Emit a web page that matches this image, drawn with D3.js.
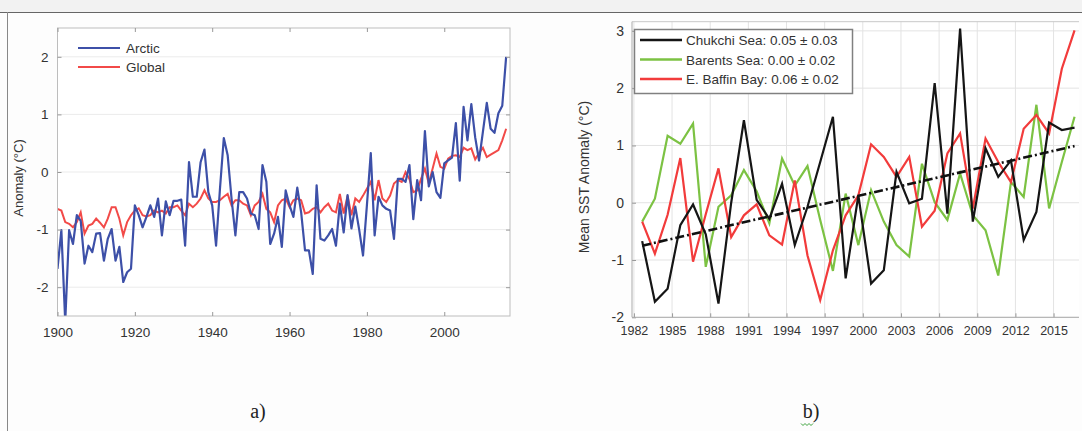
<!DOCTYPE html>
<html>
<head>
<meta charset="utf-8">
<script src="https://cdn.jsdelivr.net/npm/d3@7"></script>
<style>
  body { margin: 0; background: #fdfdfd; }
  svg text { font-family: "Liberation Sans", Arial, sans-serif; }
</style>
</head>
<body>
<div id="chart"></div>
<script>
// ---- panel a: Arctic vs global air temperature anomaly ----
var yearsA = d3.range(1900, 2017);
var arctic = [-1.68, -1.01, -2.6, -1.01, -1.25, -0.75, -0.85, -1.59, -1.28, -1.39,
    -1.07, -1.06, -1.54, -1.16, -0.99, -1.54, -1.30, -1.91, -1.74, -1.68,
    -0.58, -0.75, -0.96, -0.78, -0.58, -0.78, -0.46, -1.10, -0.51, -0.75,
    -0.50, -0.50, -0.48, -1.28, 0.17, -0.43, -0.43, 0.17, 0.39, -0.35,
    -0.58, -1.28, -0.30, 0.59, 0.29, -0.46, -1.10, -0.35, -0.35, -0.46,
    -0.72, -0.75, -0.99, 0.12, -0.17, -1.25, -1.07, -0.78, -1.30, -0.32,
    -0.58, -0.78, -0.27, -0.70, -1.36, -1.36, -1.77, -0.23, -1.16, -1.19,
    -1.10, -0.99, -1.28, -0.55, -1.05, -0.40, -0.98, -0.60, -1.00, -1.45,
    -0.58, 0.33, -1.10, -0.43, -0.58, -0.64, -0.67, -1.16, -0.12, -0.12,
    -0.17, 0.12, -0.82, -0.14, -0.49, 0.71, -0.25, 0.00, -0.35, -0.45,
    0.15, 0.20, 0.25, 0.85, -0.15, 1.13, 0.55, 1.18, 0.60, 0.20,
    0.70, 1.20, 0.75, 0.68, 1.02, 1.15, 2.00];
var global = [-0.64, -0.67, -0.87, -0.90, -0.96, -0.87, -0.70, -1.07, -0.93, -0.90,
    -0.81, -0.88, -0.96, -0.81, -0.61, -0.61, -0.81, -1.10, -0.87, -0.75,
    -0.67, -0.63, -0.75, -0.77, -0.75, -0.67, -0.70, -0.67, -0.72, -0.61,
    -0.61, -0.58, -0.67, -0.75, -0.55, -0.61, -0.55, -0.46, -0.32, -0.46,
    -0.52, -0.52, -0.49, -0.43, -0.38, -0.58, -0.49, -0.49, -0.55, -0.58,
    -0.75, -0.58, -0.52, -0.38, -0.64, -0.70, -0.87, -0.58, -0.49, -0.46,
    -0.61, -0.49, -0.46, -0.49, -0.72, -0.70, -0.64, -0.61, -0.70, -0.61,
    -0.55, -0.67, -0.70, -0.38, -0.72, -0.41, -0.75, -0.46, -0.52, -0.41,
    -0.29, -0.17, -0.49, -0.14, -0.46, -0.52, -0.41, -0.20, -0.14, -0.17,
    0.00, -0.12, -0.35, -0.32, -0.12, 0.06, -0.20, 0.06, 0.32, 0.09,
    0.06, 0.23, 0.28, 0.29, 0.26, 0.42, 0.38, 0.41, 0.22, 0.33,
    0.42, 0.26, 0.30, 0.34, 0.38, 0.55, 0.75];
var ticksXA = [1900, 1920, 1940, 1960, 1980, 2000];
var ticksYA = [-2, -1, 0, 1, 2];

// ---- panel b: mean SST anomaly in three Arctic seas ----
var yearsB = d3.range(1982, 2017);
var chukchi = [-0.67, -1.73, -1.50, -0.39, -0.03, -0.55, -1.76, 0.00, 1.44, 0.05,
    -0.28, 0.33, -0.74, -0.07, 0.71, 1.50, -1.32, 0.13, -1.41, -1.18,
    0.54, -0.01, 0.07, 2.09, -0.19, 3.04, -0.33, 0.95, 0.45, 0.74,
    -0.65, -0.16, 1.40, 1.27, 1.31];
var barents = [-0.33, 0.07, 1.17, 1.03, 1.38, -1.12, -0.07, 0.13, 0.57, 0.20,
    -0.36, 0.77, 0.30, 0.64, -0.30, -1.19, 0.16, -0.74, 0.22, -0.33,
    -0.74, -0.94, 0.68, 0.01, -0.30, 0.51, -0.22, -0.48, -1.27, 0.36,
    0.10, 1.71, -0.10, 0.71, 1.50];
var baffin = [-0.33, -0.89, -0.21, 0.78, -1.03, -0.20, 0.60, -0.60, -0.22, -0.03,
    -0.57, -0.73, 0.39, -0.92, -1.70, -0.83, -0.22, 0.13, 1.02, 0.80,
    0.45, 0.80, -0.42, -0.14, 0.86, 1.21, -0.10, 1.12, 0.71, 0.36,
    1.29, 1.53, 1.21, 2.34, 3.01];
var trendYears = [1982, 2016];
var trendValues = [-0.75, 0.99];
var legendB = ["Chukchi Sea: 0.05 \u00b1 0.03", "Barents Sea: 0.00 \u00b1 0.02", "E. Baffin Bay: 0.06 \u00b1 0.02"];
var ticksXB = d3.range(1982, 2016, 3);
var ticksYB = [-2, -1, 0, 1, 2, 3];

var width = 1082, height = 431;
var svg = d3.select("#chart").append("svg")
    .attr("width", width)
    .attr("height", height);

// page chrome of the source screenshot
svg.append("rect").attr("x", 0).attr("y", 0).attr("width", width).attr("height", 12).attr("fill", "#f2f2f2");
svg.append("line").attr("x1", 0).attr("x2", width).attr("y1", 12.5).attr("y2", 12.5).attr("stroke", "#666");
svg.append("line").attr("x1", 7.5).attr("x2", 7.5).attr("y1", 12).attr("y2", height).attr("stroke", "#888");

var textColor = "#333";
var plainNum = function(d) { return String(d); }; // hyphen minus like the original

// ================= panel a =================
var xA = d3.scaleLinear().domain([1900, 2017]).range([57.5, 510]);
var yA = d3.scaleLinear().domain([-2.5, 2.5]).range([316, 28]);

var ga = svg.append("g");
ga.append("rect").attr("x", 57.5).attr("y", 28).attr("width", 452.5).attr("height", 288).attr("fill", "#fff");

// light horizontal grid
ga.selectAll(".gridA").data(ticksYA).enter().append("line")
    .attr("x1", xA(1900)).attr("x2", xA(2017))
    .attr("y1", function(d) { return yA(d); }).attr("y2", function(d) { return yA(d); })
    .attr("stroke", "#ebebeb");

ga.append("clipPath").attr("id", "clipA").append("rect")
    .attr("x", 57.5).attr("y", 28).attr("width", 452.5).attr("height", 288);

var lineA = d3.line()
    .x(function(d) { return xA(d[0]); })
    .y(function(d) { return yA(d[1]); });

ga.append("path")
    .datum(d3.zip(yearsA, global))
    .attr("d", lineA)
    .attr("clip-path", "url(#clipA)")
    .attr("fill", "none").attr("stroke", "#f24a48").attr("stroke-width", 2);
ga.append("path")
    .datum(d3.zip(yearsA, arctic))
    .attr("d", lineA)
    .attr("clip-path", "url(#clipA)")
    .attr("fill", "none").attr("stroke", "#3d50a8").attr("stroke-width", 2.2)
    .attr("stroke-linejoin", "round");

// frame with ticks on all sides
ga.append("rect").attr("x", 57.5).attr("y", 28).attr("width", 452.5).attr("height", 288)
    .attr("fill", "none").attr("stroke", "#bdbdbd");
ga.append("g").attr("transform", "translate(0,316)")
    .call(d3.axisBottom(xA).tickValues(ticksXA).tickFormat(plainNum).tickSizeInner(-4).tickSizeOuter(0).tickPadding(11))
    .call(styleAxis);
ga.append("g").attr("transform", "translate(0,28)")
    .call(d3.axisTop(xA).tickValues(ticksXA).tickFormat("").tickSizeInner(-4).tickSizeOuter(0))
    .call(styleAxis);
ga.append("g").attr("transform", "translate(57.5,0)")
    .call(d3.axisLeft(yA).tickValues(ticksYA).tickFormat(plainNum).tickSizeInner(-4).tickSizeOuter(0).tickPadding(9))
    .call(styleAxis);
ga.append("g").attr("transform", "translate(510,0)")
    .call(d3.axisRight(yA).tickValues(ticksYA).tickFormat("").tickSizeInner(-4).tickSizeOuter(0))
    .call(styleAxis);

ga.append("text")
    .attr("transform", "translate(23," + 178 + ") rotate(-90)")
    .attr("text-anchor", "middle")
    .style("font-size", "13px").attr("fill", textColor)
    .text("Anomaly (\u00b0C)");

// legend a
var legA = [["Arctic", "#3d50a8"], ["Global", "#f24a48"]];
legA.forEach(function(d, i) {
    var yy = 48 + i * 19;
    ga.append("line").attr("x1", 78).attr("x2", 120).attr("y1", yy).attr("y2", yy)
        .attr("stroke", d[1]).attr("stroke-width", 2.2);
    ga.append("text").attr("x", 126).attr("y", yy + 5)
        .style("font-size", "13.5px").attr("fill", textColor).text(d[0]);
});

// ================= panel b =================
var xB = d3.scaleLinear().domain([1981.85, 2017]).range([632, 1079]);
var yB = d3.scaleLinear().domain([-2, 3.16]).range([317.3, 21.7]);
var midYear = 0.65; // the original plots each annual value a little after its year tick

var gb = svg.append("g");
gb.append("rect").attr("x", 632).attr("y", 21.7).attr("width", 447).attr("height", 295.6).attr("fill", "#fff");

gb.selectAll(".gvB").data(ticksXB).enter().append("line")
    .attr("x1", function(d) { return xB(d); }).attr("x2", function(d) { return xB(d); })
    .attr("y1", yB(3.16)).attr("y2", yB(-2))
    .attr("stroke", "#e3e3e3");
gb.selectAll(".ghB").data(ticksYB).enter().append("line")
    .attr("x1", xB(1981.85)).attr("x2", xB(2017))
    .attr("y1", function(d) { return yB(d); }).attr("y2", function(d) { return yB(d); })
    .attr("stroke", "#e3e3e3");

var lineB = d3.line()
    .x(function(d) { return xB(d[0] + midYear); })
    .y(function(d) { return yB(d[1]); });

var seriesB = [
    { values: barents, color: "#7cc243" },
    { values: baffin, color: "#f23b3b" },
    { values: chukchi, color: "#151515" }
];
seriesB.forEach(function(s) {
    gb.append("path")
        .datum(d3.zip(yearsB, s.values))
        .attr("d", lineB)
        .attr("fill", "none").attr("stroke", s.color).attr("stroke-width", 2.2);
});

gb.append("path")
    .datum(d3.zip(trendYears, trendValues))
    .attr("d", lineB)
    .attr("fill", "none").attr("stroke", "#111").attr("stroke-width", 2.6)
    .attr("stroke-dasharray", "9,3,2,3");

gb.append("g").attr("transform", "translate(0,317.3)")
    .call(d3.axisBottom(xB).tickValues(ticksXB).tickFormat(plainNum).tickSizeInner(-4).tickSizeOuter(0).tickPadding(9))
    .call(styleAxis)
    .selectAll("text").style("font-size", "12.5px");
gb.append("g").attr("transform", "translate(632,0)")
    .call(d3.axisLeft(yB).tickValues(ticksYB).tickFormat(plainNum).tickSizeInner(-4).tickSizeOuter(0).tickPadding(8))
    .call(styleAxis)
    .selectAll("text").style("font-size", "14px");
gb.append("line").attr("x1", 632).attr("x2", 1079).attr("y1", 21.7).attr("y2", 21.7).attr("stroke", "#c8c8c8");
gb.append("line").attr("x1", 632).attr("x2", 632).attr("y1", 21.7).attr("y2", 317.3).attr("stroke", "#aaa");
gb.append("line").attr("x1", 632).attr("x2", 1079).attr("y1", 317.3).attr("y2", 317.3).attr("stroke", "#aaa");

gb.append("text")
    .attr("transform", "translate(589,177) rotate(-90)")
    .attr("text-anchor", "middle")
    .style("font-size", "14px").attr("fill", textColor)
    .text("Mean SST Anomaly (\u00b0C)");

// legend b
gb.append("rect").attr("x", 634.5).attr("y", 29.5).attr("width", 218).attr("height", 64)
    .attr("fill", "#fff").attr("stroke", "#808080").attr("stroke-width", 1.5);
var legColors = ["#151515", "#7cc243", "#f23b3b"];
legendB.forEach(function(label, i) {
    var yy = 40 + i * 19.5;
    gb.append("line").attr("x1", 640).attr("x2", 682).attr("y1", yy).attr("y2", yy)
        .attr("stroke", legColors[i]).attr("stroke-width", 2.4);
    gb.append("text").attr("x", 686).attr("y", yy + 5)
        .style("font-size", "13.5px").attr("fill", textColor).text(label);
});

// ================= captions =================
svg.append("text").attr("x", 258).attr("y", 418).attr("text-anchor", "middle")
    .style("font-family", "'Liberation Serif', 'DejaVu Serif', serif").style("font-size", "20px")
    .attr("fill", "#222").text("a)");
svg.append("text").attr("x", 811).attr("y", 418).attr("text-anchor", "middle")
    .style("font-family", "'Liberation Serif', 'DejaVu Serif', serif").style("font-size", "20px")
    .attr("fill", "#222").text("b)");
// spell-check squiggle under "b)"
var squig = d3.range(0, 7).map(function(i) { return [801 + i * 2, 424 + (i % 2 ? 1.5 : -0.5)]; });
svg.append("path").attr("d", d3.line()(squig)).attr("fill", "none").attr("stroke", "#3ca23c").attr("stroke-width", 1);

function styleAxis(g) {
    g.select(".domain").remove();
    g.selectAll(".tick line").attr("stroke", "#999");
    g.selectAll(".tick text").attr("fill", textColor).style("font-size", "13.5px");
}
</script>
</body>
</html>
